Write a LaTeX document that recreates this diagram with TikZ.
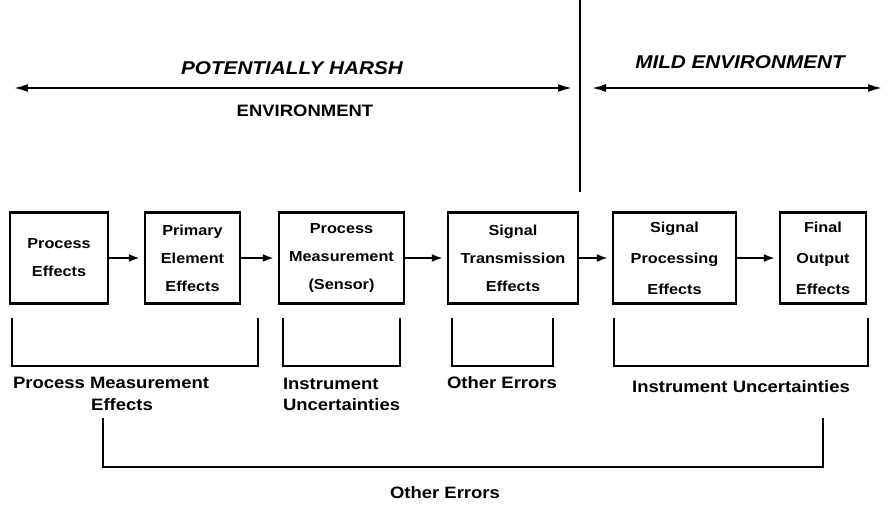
\documentclass[tikz,border=0pt]{standalone}
\usepackage{fontspec}
\setmainfont[FakeStretch=1.12]{Liberation Sans}
\usetikzlibrary{arrows.meta}
\begin{document}
\begin{tikzpicture}[x=1pt,y=-1pt,line width=2pt]
  \tikzstyle{block}=[draw,rectangle,line width=2.4pt,minimum height=91pt,inner sep=2pt,align=center,font=\bfseries\fontsize{14.5}{28}\selectfont]
  \tikzstyle{loose}=[font=\bfseries\fontsize{14.5}{31}\selectfont]
  \tikzstyle{errtext}=[font=\bfseries\fontsize{16.5}{21}\selectfont,inner sep=0pt]
  \tikzstyle{envtext}=[font=\bfseries\fontsize{16.5}{20}\selectfont,inner sep=0pt]
  \tikzstyle{slanted}=[font=\bfseries\itshape\fontsize{18.5}{20}\selectfont]
  \tikzstyle{flow}=[-{Latex[length=11pt,width=8pt]},shorten >=4pt]
  \tikzstyle{span}=[{Latex[length=14pt,width=8pt]}-{Latex[length=14pt,width=8pt]}]
  \useasboundingbox (0,0) rectangle (889,512);
  % environments
  \coordinate (divtop) at (580,0);
  \coordinate (divbot) at (580,192);
  \draw (divtop) -- (divbot);
  \coordinate (harshL) at (14,88);
  \coordinate (harshR) at (572,88);
  \coordinate (mildL)  at (592,88);
  \coordinate (mildR)  at (882,88);
  \draw[span] (harshL) -- (harshR);
  \draw[span] (mildL) -- (mildR);
  \node[envtext,slanted] (harsh) at (292,68) {POTENTIALLY HARSH};
  \node[envtext] (harshenv) at (305,111) {ENVIRONMENT};
  \node[envtext,slanted] (mild) at (740,62) {MILD ENVIRONMENT};
  % chain of blocks
  \node[block,minimum width=98pt]  (PE)  at (59,258)    {Process\\Effects};
  \node[block,minimum width=95pt]  (PEE) at (192.5,258) {Primary\\Element\\Effects};
  \node[block,minimum width=125pt] (PM)  at (341.5,258) {Process\\Measurement\\(Sensor)};
  \node[block,minimum width=130pt] (ST)  at (513,258)   {Signal\\Transmission\\Effects};
  \node[block,loose,minimum width=123pt] (SP)  at (674.5,258) {Signal\\Processing\\Effects};
  \node[block,loose,minimum width=86pt]  (FO)  at (823,258)   {Final\\Output\\Effects};
  \draw[flow] (PE) -- (PEE);
  \draw[flow] (PEE) -- (PM);
  \draw[flow] (PM) -- (ST);
  \draw[flow] (ST) -- (SP);
  \draw[flow] (SP) -- (FO);
  % error brackets
  \draw (12,318) |- (258,366) -- (258,318);
  \draw (283,318) |- (400,366) -- (400,318);
  \draw (452,318) |- (553,366) -- (553,318);
  \draw (614,318) |- (868,366) -- (868,318);
  \draw (103,418) |- (823,467) -- (823,418);
  \node[errtext,anchor=west] (pmlabel) at (12,383) {Process Measurement};
  \node[errtext] (pmlabel2) at (122,405) {Effects};
  \node[errtext,anchor=west,align=left] (iulabel) at (282,394) {Instrument\\Uncertainties};
  \node[errtext] (oelabel) at (502,383) {Other Errors};
  \node[errtext] (iulabel2) at (741,387) {Instrument Uncertainties};
  \node[errtext] (oelabel2) at (445,493) {Other Errors};
\end{tikzpicture}
\end{document}
